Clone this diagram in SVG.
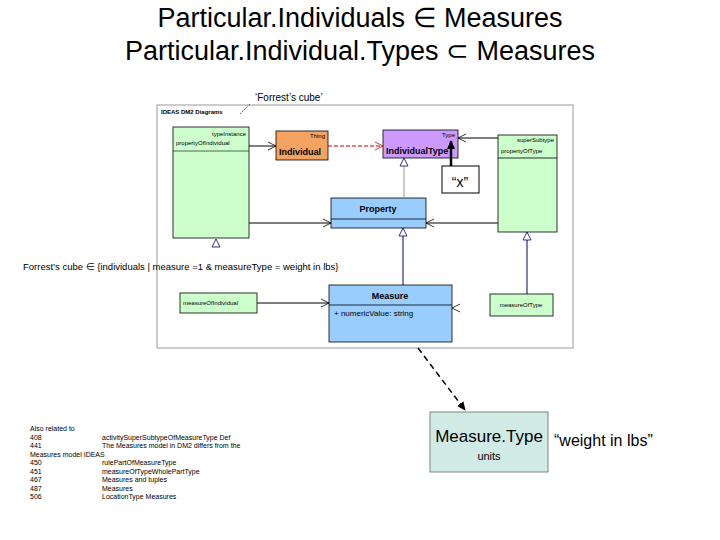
<svg xmlns="http://www.w3.org/2000/svg" width="720" height="540" viewBox="0 0 720 540">
<style>
text{font-family:"Liberation Sans",Arial,sans-serif;fill:#000}
.t{font-size:27px}
.s{font-size:6px}
.g{fill:#ccffcc;stroke:#000;stroke-width:0.8}
.c{stroke:#000;stroke-width:1;fill:none}
.n{stroke:#000066;stroke-width:1;fill:none}
</style>
<defs>
<marker id="op" markerWidth="10" markerHeight="10" refX="9" refY="5" orient="auto" markerUnits="userSpaceOnUse"><path d="M1,1 L9,5 L1,9" fill="none" stroke="#000" stroke-width="0.8"/></marker>
<marker id="opr" markerWidth="10" markerHeight="10" refX="9" refY="5" orient="auto" markerUnits="userSpaceOnUse"><path d="M1,1 L9,5 L1,9" fill="none" stroke="#cc0000" stroke-width="0.8"/></marker>
<marker id="tri" markerWidth="10" markerHeight="10" refX="9" refY="5" orient="auto" markerUnits="userSpaceOnUse"><path d="M1,1 L9,5 L1,9 Z" fill="#fff" stroke="#000066" stroke-width="0.8"/></marker>
<marker id="fa" markerWidth="10" markerHeight="10" refX="8" refY="5" orient="auto" markerUnits="userSpaceOnUse"><path d="M0,1 L9,5 L0,9 Z" fill="#000"/></marker>
</defs>
<rect width="720" height="540" fill="#fff"/>
<text class="t" x="360" y="27" text-anchor="middle">Particular.Individuals ∈ Measures</text>
<text class="t" x="360" y="60" text-anchor="middle">Particular.Individual.Types ⊂ Measures</text>
<text x="255" y="101" font-size="10">‘Forrest’s cube’</text>
<g id="frame"><rect x="157" y="105" width="416" height="243" fill="#fff" stroke="#999" stroke-width="1"/>
<text x="161" y="114" class="s" font-weight="bold">IDEAS DM2 Diagrams</text>
<line x1="240" y1="114" x2="250" y2="104" stroke="#000" stroke-width="0.6" stroke-dasharray="2,1"/></g>
<g id="typeInstance"><rect class="g" x="173" y="127" width="76" height="111"/><line x1="173" y1="151" x2="249" y2="151" stroke="#000" stroke-width="0.6"/>
<text class="s" x="246" y="136" text-anchor="end">typeInstance</text><text class="s" x="176" y="145">propertyOfIndividual</text></g>
<g id="individual"><rect x="276" y="131" width="52" height="29" fill="#f4a460" stroke="#000" stroke-width="0.8"/>
<text class="s" x="325" y="138" text-anchor="end">Thing</text><text x="279" y="155" font-size="9" font-weight="bold">Individual</text></g>
<g id="individualType"><rect x="383" y="130" width="75" height="28" fill="#cc99ff" stroke="#000" stroke-width="0.8"/>
<text class="s" x="455" y="137" text-anchor="end">Type</text><text x="386" y="154" font-size="9" font-weight="bold">IndividualType</text></g>
<g id="x"><rect x="442" y="166" width="37" height="27" fill="#fff" stroke="#000"/><text x="460" y="187" text-anchor="middle" font-size="14">“x”</text></g>
<g id="superSubtype"><rect class="g" x="498" y="135" width="59" height="97"/><line x1="498" y1="158" x2="557" y2="158" stroke="#000" stroke-width="0.8"/>
<text class="s" x="554" y="142" text-anchor="end">superSubtype</text><text class="s" x="501" y="153">propertyOfType</text></g>
<g id="property"><rect x="331" y="198" width="95" height="30" fill="#99ccff" stroke="#000" stroke-width="0.8"/><line x1="331" y1="219" x2="426" y2="219" stroke="#000" stroke-width="0.8"/>
<text x="378" y="212" text-anchor="middle" font-size="9" font-weight="bold">Property</text></g>
<text x="23" y="270" font-size="9.5">Forrest’s cube  ∈ {individuals  | measure =1 &amp; measureType = weight in lbs}</text>
<g id="measureOfIndividual"><rect class="g" x="180" y="293" width="77" height="20"/><text class="s" x="183" y="305">measureOfIndividual</text></g>
<g id="measure"><rect x="329" y="285" width="123" height="57" fill="#99ccff" stroke="#000" stroke-width="0.8"/><line x1="329" y1="305" x2="452" y2="305" stroke="#000" stroke-width="0.8"/>
<text x="390" y="299" text-anchor="middle" font-size="9" font-weight="bold">Measure</text>
<text x="334" y="316" font-size="8" fill="#660033">+   numericValue:  string</text></g>
<g id="measureOfType"><rect class="g" x="490" y="294" width="63" height="22"/><text class="s" x="521" y="307" text-anchor="middle">measureOfType</text></g>
<g id="measureType"><rect x="430" y="412" width="118" height="60" fill="#d0ebe6" stroke="#666" stroke-width="0.8"/>
<text x="489" y="442" text-anchor="middle" font-size="17">Measure.Type</text><text x="489" y="460" text-anchor="middle" font-size="11">units</text></g>
<text x="554" y="446" font-size="16">“weight in lbs”</text>
<g id="connectors">
<line class="c" x1="249" y1="146" x2="276" y2="146" marker-end="url(#op)"/>
<line x1="328" y1="146" x2="383" y2="146" stroke="#cc0000" stroke-width="1" stroke-dasharray="4,2" marker-end="url(#opr)"/>
<line class="c" x1="498" y1="138" x2="458" y2="138" marker-end="url(#op)"/>
<line x1="404" y1="198" x2="404" y2="158" stroke="#999" stroke-width="1" marker-end="url(#tri)"/>
<line class="c" x1="249" y1="223" x2="331" y2="223" marker-end="url(#op)"/>
<line class="c" x1="498" y1="223" x2="426" y2="223" marker-end="url(#op)"/>
<line class="n" x1="403" y1="285" x2="403" y2="228" marker-end="url(#tri)"/>
<line class="n" x1="527" y1="294" x2="527" y2="232" marker-end="url(#tri)"/>
<path d="M212,247 L216,239 L220,247 Z" fill="#fff" stroke="#000066" stroke-width="0.8"/>
<line class="c" x1="257" y1="303" x2="329" y2="303" marker-end="url(#op)"/>
<path d="M460,304 L452,308 L460,312" fill="none" stroke="#000" stroke-width="0.8"/>
<line x1="451" y1="166" x2="451" y2="141" stroke="#000" stroke-width="2.5" marker-end="url(#fa)"/>
<line x1="418" y1="348" x2="465" y2="410" stroke="#000" stroke-width="1.5" stroke-dasharray="6,4" marker-end="url(#fa)"/>
</g>
<g font-size="7">
<text x="30" y="431">Also related to</text>
<text x="30" y="440">408</text><text x="102" y="440">activitySuperSubtypeOfMeasureType Def</text>
<text x="30" y="448">441</text><text x="102" y="448">The Measures model in DM2 differs from the</text>
<text x="30" y="457">Measures model IDEAS</text>
<text x="30" y="465">450</text><text x="102" y="465">rulePartOfMeasureType</text>
<text x="30" y="474">451</text><text x="102" y="474">measureOfTypeWholePartType</text>
<text x="30" y="482">467</text><text x="102" y="482">Measures and tuples</text>
<text x="30" y="491">487</text><text x="102" y="491">Measures</text>
<text x="30" y="499">506</text><text x="102" y="499">LocationType Measures</text>
</g>
</svg>
